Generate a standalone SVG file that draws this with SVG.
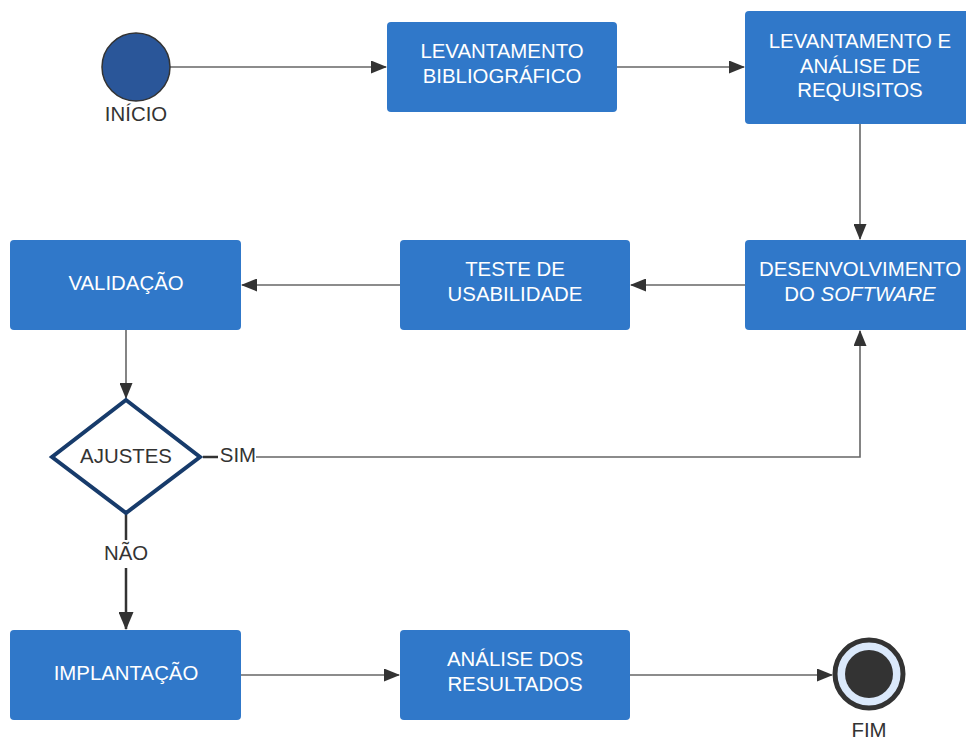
<svg xmlns="http://www.w3.org/2000/svg" width="966" height="742" viewBox="0 0 966 742">
  <style>
    .box { fill: #3078c9; }
    .lbl { font-family: "Liberation Sans", Arial, sans-serif; font-size: 20.4px; fill: #ffffff; text-anchor: middle; }
    .dark { font-family: "Liberation Sans", Arial, sans-serif; font-size: 20.4px; fill: #333333; text-anchor: middle; }
    .edge { fill: none; stroke: #666666; stroke-width: 1.6; }
    .edge-bold { fill: none; stroke: #333333; stroke-width: 2.5; }
  </style>
  <defs>
    <marker id="arrow" markerWidth="16" markerHeight="13" refX="15" refY="6.5" orient="auto" markerUnits="userSpaceOnUse">
      <path d="M0,0 L16,6.5 L0,13 Z" fill="#333333"/>
    </marker>
    <marker id="arrow-big" markerWidth="18" markerHeight="15" refX="17" refY="7.5" orient="auto" markerUnits="userSpaceOnUse">
      <path d="M0,0 L18,7.5 L0,15 Z" fill="#333333"/>
    </marker>
  </defs>

  <rect width="966" height="742" fill="#ffffff"/>

  <!-- connectors -->
  <g id="connectors">
    <line class="edge" x1="170" y1="67" x2="386" y2="67" marker-end="url(#arrow)"/>
    <line class="edge" x1="617" y1="67" x2="744" y2="67" marker-end="url(#arrow)"/>
    <line class="edge" x1="860" y1="124" x2="860" y2="239" marker-end="url(#arrow)"/>
    <line class="edge" x1="745" y1="285" x2="631" y2="285" marker-end="url(#arrow)"/>
    <line class="edge" x1="400" y1="285" x2="242" y2="285" marker-end="url(#arrow)"/>
    <line class="edge" x1="126" y1="330" x2="126" y2="398" marker-end="url(#arrow)"/>
    <polyline class="edge" points="256,457 860,457 860,331" marker-end="url(#arrow)"/>
    <line class="edge-bold" x1="203" y1="457" x2="218" y2="457"/>
    <line class="edge-bold" x1="126" y1="514" x2="126" y2="540"/>
    <line class="edge-bold" x1="126" y1="568" x2="126" y2="629" marker-end="url(#arrow-big)"/>
    <line class="edge" x1="241" y1="675" x2="399" y2="675" marker-end="url(#arrow)"/>
    <line class="edge" x1="630" y1="675" x2="832" y2="675" marker-end="url(#arrow)"/>
    <text class="dark" x="238" y="462">SIM</text>
    <text class="dark" x="126" y="560">NÃO</text>
  </g>

  <g id="inicio">
    <circle cx="136" cy="67" r="34" fill="#2a5699" stroke="#333333" stroke-width="1.5"/>
    <text class="dark" x="136" y="121">INÍCIO</text>
  </g>

  <g id="levantamento-bibliografico">
    <rect class="box" x="387" y="22" width="230" height="90" rx="4"/>
    <text class="lbl" x="502" y="58">LEVANTAMENTO</text>
    <text class="lbl" x="502" y="83">BIBLIOGRÁFICO</text>
  </g>

  <g id="levantamento-requisitos">
    <rect class="box" x="745" y="11" width="230" height="113" rx="4"/>
    <text class="lbl" x="860" y="48">LEVANTAMENTO E</text>
    <text class="lbl" x="860" y="73">ANÁLISE DE</text>
    <text class="lbl" x="860" y="97">REQUISITOS</text>
  </g>

  <g id="desenvolvimento">
    <rect class="box" x="745" y="240" width="230" height="90" rx="4"/>
    <text class="lbl" x="860" y="276">DESENVOLVIMENTO</text>
    <text class="lbl" x="860" y="301">DO <tspan font-style="italic">SOFTWARE</tspan></text>
  </g>

  <g id="teste-usabilidade">
    <rect class="box" x="400" y="240" width="230" height="90" rx="4"/>
    <text class="lbl" x="515" y="276">TESTE DE</text>
    <text class="lbl" x="515" y="301">USABILIDADE</text>
  </g>

  <g id="validacao">
    <rect class="box" x="10" y="240" width="231" height="90" rx="4"/>
    <text class="lbl" x="126" y="290">VALIDAÇÃO</text>
  </g>

  <g id="ajustes">
    <polygon points="126,400 200,457 126,513 52,457" fill="#ffffff" stroke="#173b6b" stroke-width="4" stroke-linejoin="miter"/>
    <text class="dark" x="126" y="463">AJUSTES</text>
  </g>

  <g id="implantacao">
    <rect class="box" x="10" y="630" width="231" height="90" rx="4"/>
    <text class="lbl" x="126" y="680">IMPLANTAÇÃO</text>
  </g>

  <g id="analise-resultados">
    <rect class="box" x="400" y="630" width="230" height="90" rx="4"/>
    <text class="lbl" x="515" y="666">ANÁLISE DOS</text>
    <text class="lbl" x="515" y="691">RESULTADOS</text>
  </g>

  <g id="fim">
    <circle cx="869" cy="674" r="34" fill="#dbe9fb" stroke="#333333" stroke-width="5"/>
    <circle cx="869" cy="674" r="24" fill="#333333"/>
    <text class="dark" x="869" y="737">FIM</text>
  </g>
</svg>
